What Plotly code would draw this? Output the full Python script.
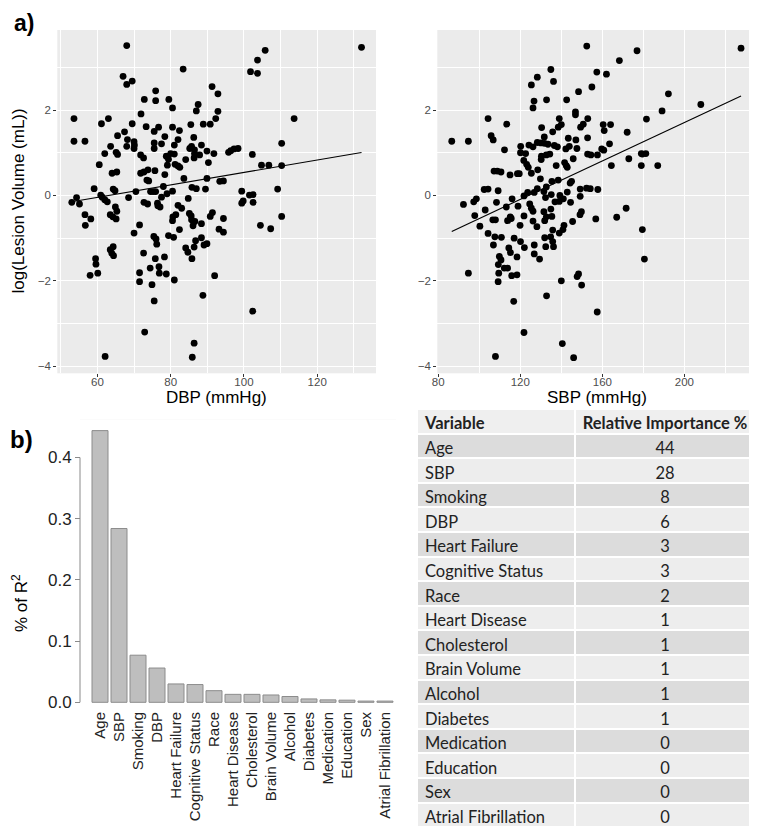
import numpy as np
import plotly.graph_objects as go

# page is 757x830; the html body adds an 8px margin, so the figure itself is 8px smaller
OFF = 8
W, H = 757 - OFF, 830 - OFF

# ---------------- data ----------------
dbp_x = [68, 132.1, 105.8, 103.7, 101.8, 103.7, 83.4, 67, 69.5, 68, 91.3, 75.9, 92.9, 72.8, 75.9, 79.5,
         80.5, 87.5, 87, 92.9, 53.6, 63, 92.3, 113.7, 71.9, 61.1, 69.5, 85.5, 88.9, 90.8, 73.3, 76.7,
         80.5, 67.4, 82.4, 75.5, 65.5, 68.2, 78.4, 86.3, 53.6, 56.6, 70, 82, 75.5, 77.5, 81, 110.3,
         63.6, 68, 70.1, 70, 75.5, 85.7, 85.2, 88.4, 86.5, 89.9, 95.8, 96.4, 97.3, 98.4, 62, 65.1,
         65.5, 71.8, 78.8, 80, 81, 86.5, 87.9, 91.8, 102.3, 72.6, 79.4, 84.1, 86.4, 90.3, 60.5, 79.1,
         81.2, 82, 82.5, 104.8, 106.8, 110.3, 73.8, 75.7, 65.3, 64, 71.8, 72.7, 78.4, 83.6, 89.9, 73.5,
         74, 93.4, 94.4, 59.1, 64.3, 64.8, 78, 85.8, 87, 89.5, 70.5, 74.5, 75.2, 75.9, 80.5, 99.4,
         109.2, 101.5, 102.5, 60.9, 61.3, 68.5, 54.3, 53, 55.1, 62, 62.7, 77.5, 79, 84.8, 99.8, 99.4,
         102.5, 72.7, 73.7, 76.4, 76.5, 77.1, 82, 83, 64.9, 65.3, 56.6, 63.5, 64.2, 65.1, 58.2, 56.7,
         80.6, 80.5, 81.4, 85.1, 85.6, 85.7, 86.1, 86.6, 90.8, 91.4, 94.4, 88.4, 93.2, 94.4, 104.5, 107.3,
         110.3, 71.5, 70, 82.4, 75.4, 76, 76.2, 79.4, 80.8, 88.4, 86.8, 86.4, 89.1, 89.9, 84.1, 84.7,
         64.3, 63.5, 63.9, 64.4, 72.6, 85.8, 59.5, 59.6, 58, 60.1, 75.8, 78.3, 74.4, 76.8, 76.9, 78.8,
         71.5, 71.5, 74.9, 81, 92, 75.5, 88.8, 102.4, 72.9, 86.4, 62.1, 85.9]
dbp_y = [3.51, 3.47, 3.40, 3.17, 2.90, 2.86, 2.96, 2.79, 2.68, 2.60, 2.55, 2.45, 2.38, 2.25, 2.22, 2.25,
         2.05, 2.13, 1.98, 1.97, 1.80, 1.80, 1.80, 1.80, 1.91, 1.68, 1.68, 1.66, 1.67, 1.67, 1.61, 1.60,
         1.60, 1.49, 1.52, 1.50, 1.40, 1.31, 1.38, 1.36, 1.27, 1.27, 1.26, 1.31, 1.23, 1.21, 1.18, 1.22,
         1.15, 1.15, 1.18, 1.10, 1.10, 1.15, 1.10, 1.18, 1.07, 1.04, 1.01, 1.05, 1.09, 1.10, 0.98, 1.01,
         0.96, 0.95, 0.92, 0.98, 0.97, 0.98, 0.95, 0.98, 0.96, 0.88, 0.85, 0.84, 0.88, 0.77, 0.72, 0.71,
         0.73, 0.69, 0.66, 0.71, 0.71, 0.70, 0.60, 0.58, 0.55, 0.52, 0.52, 0.55, 0.49, 0.40, 0.40, 0.36,
         0.34, 0.33, 0.34, 0.16, 0.15, 0.11, 0.21, 0.19, 0.16, 0.15, 0.09, 0.09, 0.09, 0.09, 0.10, 0.10,
         0.15, 0.01, 0.02, 0.01, -0.04, -0.05, -0.05, -0.16, -0.20, -0.10, -0.15, -0.04, 0.04, -0.07, -0.13, -0.18,
         -0.16, -0.16, -0.20, -0.18, -0.24, -0.27, -0.23, -0.30, -0.27, -0.37, -0.45, -0.45, -0.50, -0.55, -0.55, -0.70,
         -0.50, -0.59, -0.45, -0.42, -0.48, -0.57, -0.71, -0.61, -0.49, -0.40, -0.54, -0.66, -0.79, -0.86, -0.70, -0.78,
         -0.49, -0.69, -0.88, -0.80, -0.96, -1.02, -1.14, -0.94, -0.98, -0.99, -1.06, -1.21, -1.16, -1.13, -1.23, -1.33,
         -1.20, -1.27, -1.35, -1.41, -1.35, -1.48, -1.48, -1.61, -1.87, -1.82, -1.48, -1.44, -1.70, -1.67, -1.82, -1.84,
         -1.81, -2.02, -2.09, -1.98, -1.88, -2.47, -2.34, -2.71, -3.20, -3.46, -3.77, -3.79]

sbp_x = [152.4, 227.6, 176.9, 168.3, 134.9, 157.3, 162, 128.3, 136.2, 125.4, 154.9, 148.4, 192.2, 126.7, 132.8, 142.6,
         126.2, 208, 189.1, 146.9, 146.9, 104.3, 139, 152.9, 181.5, 113.4, 140, 150.7, 149.4, 160.4, 164, 138.5,
         130.4, 160.9, 172.1, 135.8, 105.8, 106.8, 131.7, 143.4, 152.8, 86.6, 94.7, 147.1, 128.3, 130.1, 131.8, 133.5,
         124.2, 120.2, 126.2, 136.6, 138.1, 143.9, 147.6, 142.2, 163.5, 159.7, 160.7, 112.3, 120.1, 122.6, 132.7, 134.4,
         130.3, 152.8, 154.4, 157.6, 179, 181.2, 179.5, 172.9, 130.2, 121.7, 145.8, 141.6, 123.1, 137.5, 142.4, 164.4,
         179, 187, 123.9, 142.9, 128.5, 107.2, 108.8, 110.6, 125.4, 115, 118.6, 119.5, 129.8, 138.5, 135.4, 145,
         144.3, 104.3, 102.4, 109.2, 128.3, 132.7, 152.3, 154.1, 149.2, 157.8, 131.5, 126.8, 123.6, 142.9, 135.1, 139.3,
         121.8, 132.3, 116, 141, 98.6, 97.3, 92.3, 108.4, 136.9, 139, 144.5, 149.2, 124.6, 118.9, 125.4, 113.2,
         102.9, 134.9, 131.5, 171.6, 149.8, 149.1, 126.2, 97.8, 115.1, 113.8, 115.6, 121.8, 132.7, 135.4, 167, 156.8,
         126.2, 131.9, 145.5, 106.6, 107.9, 119.9, 100.3, 128.1, 141.3, 140.8, 135.8, 179.5, 139, 104.3, 107.6, 110.8,
         117, 131.9, 134.8, 135.8, 120.1, 106.9, 126.8, 136.2, 132.4, 122, 114.4, 115.2, 126.8, 109.8, 110.6, 118.4,
         129.4, 180.5, 109.3, 112.2, 113.8, 94.7, 109.5, 115.8, 118.4, 148.4, 147.7, 149.9, 109.2, 140, 116.8, 132.8,
         157.5, 121.8, 140.5, 107.9, 146]
sbp_y = [3.50, 3.45, 3.39, 3.16, 2.95, 2.89, 2.84, 2.77, 2.67, 2.59, 2.54, 2.43, 2.38, 2.21, 2.24, 2.24,
         2.05, 2.13, 1.98, 1.96, 1.89, 1.80, 1.80, 1.80, 1.79, 1.67, 1.66, 1.67, 1.60, 1.66, 1.66, 1.60,
         1.59, 1.52, 1.48, 1.49, 1.40, 1.30, 1.37, 1.34, 1.35, 1.27, 1.27, 1.30, 1.24, 1.23, 1.22, 1.20,
         1.18, 1.15, 1.14, 1.17, 1.14, 1.15, 1.10, 1.09, 1.21, 1.09, 1.06, 1.07, 1.00, 0.98, 0.95, 0.97,
         0.92, 0.97, 0.95, 0.95, 0.98, 0.98, 0.97, 0.86, 0.84, 0.82, 0.86, 0.77, 0.73, 0.70, 0.70, 0.70,
         0.70, 0.70, 0.66, 0.66, 0.60, 0.57, 0.57, 0.55, 0.52, 0.48, 0.51, 0.51, 0.39, 0.36, 0.33, 0.33,
         0.29, 0.15, 0.14, 0.11, 0.16, 0.20, 0.17, 0.16, 0.15, 0.14, 0.09, 0.07, 0.07, 0.08, 0.02, 0.00,
         -0.01, -0.05, -0.08, -0.08, -0.08, -0.15, -0.21, -0.16, -0.15, -0.14, -0.16, -0.02, -0.20, -0.25, -0.30, -0.27,
         -0.34, -0.32, -0.38, -0.30, -0.38, -0.45, -0.37, -0.47, -0.50, -0.59, -0.54, -0.48, -0.50, -0.49, -0.51, -0.55,
         -0.60, -0.59, -0.61, -0.57, -0.57, -0.70, -0.72, -0.73, -0.70, -0.80, -0.81, -0.80, -0.88, -0.89, -0.97, -0.98,
         -1.00, -0.99, -0.97, -1.08, -1.08, -1.16, -1.16, -1.20, -1.20, -1.22, -1.23, -1.34, -1.37, -1.43, -1.51, -1.44,
         -1.49, -1.49, -1.62, -1.70, -1.70, -1.82, -1.82, -1.88, -1.86, -1.84, -1.90, -2.10, -2.02, -2.00, -2.48, -2.35,
         -2.73, -3.21, -3.47, -3.77, -3.80]

dbp_ticks = [60, 80, 100, 120]
sbp_ticks = [80, 120, 160, 200]
lesion_ticks = [-4, -2, 0, 2]

variables = ["Age", "SBP", "Smoking", "DBP", "Heart Failure", "Cognitive Status", "Race",
             "Heart Disease", "Cholesterol", "Brain Volume", "Alcohol", "Diabetes",
             "Medication", "Education", "Sex", "Atrial Fibrillation"]
r2_share = [0.444, 0.284, 0.077, 0.056, 0.030, 0.029, 0.019, 0.013, 0.013, 0.012,
            0.0095, 0.0055, 0.004, 0.0035, 0.002, 0.002]
r2_ticks = [0.0, 0.1, 0.2, 0.3, 0.4]
importance_pct = [44, 28, 8, 6, 3, 3, 2, 1, 1, 1, 1, 1, 0, 0, 0, 0]
table_header = ["Variable", "Relative Importance %"]

# ---------------- helpers (page pixels -> paper fractions) ----------------
def px_x(p):
    return (p - OFF) / W

def px_y(p):
    return 1 - (p - OFF) / H

def gg_range(vals):
    lo, hi = min(vals), max(vals)
    s = hi - lo
    return [lo - 0.05 * s, hi + 0.05 * s]

fig = go.Figure()

GRAY_BG = "#EBEBEB"
TICK_TXT = "#4D4D4D"
FONT = "Liberation Sans, Arial, sans-serif"
TFONT = "Lato, sans-serif"

# scatter panels
for xs, ys, xa, ya in [(dbp_x, dbp_y, "x", "y"), (sbp_x, sbp_y, "x2", "y2")]:
    fig.add_trace(go.Scatter(x=xs, y=ys, mode="markers", xaxis=xa, yaxis=ya,
                             marker=dict(color="black", size=6.8), showlegend=False))
    b, a = np.polyfit(xs, ys, 1)
    lx = np.array([min(xs), max(xs)])
    fig.add_trace(go.Scatter(x=lx, y=a + b * lx, mode="lines", xaxis=xa, yaxis=ya,
                             line=dict(color="black", width=1.1), showlegend=False))

# bar chart
fig.add_trace(go.Bar(x=variables, y=r2_share, xaxis="x3", yaxis="y3",
                     marker=dict(color="#BEBEBE", line=dict(color="#8C8C8C", width=1)),
                     showlegend=False))

# table
n = len(variables)
row_fill = ["#DCDCDC" if i % 2 == 0 else "#EDEDED" for i in range(n)]
val_text = [str(v) for v in importance_pct]
hdr = [h.replace(" ", "\u00a0") for h in table_header]
cell_font = dict(family=TFONT, size=16.5, color="#222")
fig.add_trace(go.Table(
    domain=dict(x=[px_x(417), px_x(755)], y=[px_y(828), px_y(409)]),
    columnwidth=[158, 180],
    header=dict(values=hdr,
                fill_color="#EFEFEF", line=dict(color="white", width=2),
                align=["left", "center"], height=24.6,
                font=dict(family=TFONT, size=16.5, color="#222", weight="bold")),
    cells=dict(values=[variables, val_text],
               fill_color=[row_fill, row_fill], line=dict(color="white", width=2),
               align=["left", "center"], height=24.6,
               font=cell_font),
))

yr = gg_range(dbp_y + sbp_y)

common_x = dict(showgrid=True, gridcolor="white", gridwidth=1.1, zeroline=False,
                ticks="outside", ticklen=3, tickcolor="#333333", tickwidth=1,
                tickfont=dict(size=11.5, color=TICK_TXT, family=FONT), showline=False,
                automargin=False)
common_y = dict(common_x)
common_x["ticklabelstandoff"] = -5

fig.update_layout(
    width=W, height=H, margin=dict(l=0, r=0, t=0, b=0, autoexpand=False),
    paper_bgcolor="white", plot_bgcolor=GRAY_BG,
    font=dict(family=FONT),
    bargap=1 - 16 / 19,
    xaxis=dict(common_x, domain=[px_x(57.3), px_x(376)], range=gg_range(dbp_x),
               tickvals=dbp_ticks, anchor="y",
               minor=dict(showgrid=True, gridcolor="white", gridwidth=0.55, dtick=10, tick0=0)),
    yaxis=dict(common_y, domain=[px_y(373.3), px_y(30)], range=yr,
               tickvals=lesion_ticks, anchor="x",
               minor=dict(showgrid=True, gridcolor="white", gridwidth=0.55, dtick=1, tick0=0)),
    xaxis2=dict(common_x, domain=[px_x(437.3), px_x(755.5)], range=gg_range(sbp_x),
                tickvals=sbp_ticks, anchor="y2",
                minor=dict(showgrid=True, gridcolor="white", gridwidth=0.55, dtick=20, tick0=0)),
    yaxis2=dict(common_y, domain=[px_y(373.3), px_y(30)], range=yr,
                tickvals=lesion_ticks, anchor="x2",
                minor=dict(showgrid=True, gridcolor="white", gridwidth=0.55, dtick=1, tick0=0)),
    xaxis3=dict(domain=[px_x(80), px_x(396)], range=[-1.053, 15.58], anchor="y3",
                showgrid=False, zeroline=False, showline=False, ticks="", automargin=False,
                tickangle=-90, tickfont=dict(size=15, color="#222", family=FONT)),
    yaxis3=dict(domain=[px_y(708), px_y(419.6)], range=[-0.0093, 0.462], anchor="free",
                position=px_x(80), showgrid=False, zeroline=False, showline=False,
                automargin=False,
                tickvals=r2_ticks, tickformat=".1f", ticks="outside", ticklen=5,
                tickcolor="#8A8A8A", tickfont=dict(size=17, color="#222", family=FONT)),
)

# base-R style y axis line (spans tick range only)
fig.add_shape(type="line", xref="paper", yref="y3", x0=px_x(80), x1=px_x(80),
              y0=min(r2_ticks), y1=max(r2_ticks), line=dict(color="#8A8A8A", width=1))
# white background behind bar chart plot area
fig.add_shape(type="rect", xref="paper", yref="paper", x0=px_x(80), x1=px_x(396),
              y0=px_y(708), y1=px_y(419.6), fillcolor="white", line=dict(width=0), layer="below")

ann = [
    dict(text="<b>a)</b>", x=px_x(24), y=px_y(8), size=23, ya="top"),
    dict(text="<b>b)</b>", x=px_x(22), y=px_y(439), size=24, ya="middle"),
    dict(text="log(Lesion Volume (mL))", x=px_x(18), y=px_y(201.5), size=17, angle=-90, ya="middle"),
    dict(text="DBP (mmHg)", x=px_x(216.5), y=px_y(397.5), size=17, ya="middle"),
    dict(text="SBP (mmHg)", x=px_x(596.5), y=px_y(397.5), size=17, ya="middle"),
    dict(text="% of R<sup>2</sup>", x=px_x(20), y=px_y(603), size=17, angle=-90, ya="middle"),
]
for a_ in ann:
    fig.add_annotation(text=a_["text"], x=a_["x"], y=a_["y"], xref="paper", yref="paper",
                       showarrow=False, xanchor="center", yanchor=a_["ya"],
                       textangle=a_.get("angle", 0),
                       font=dict(size=a_["size"], color="black", family=FONT))

fig.write_html("out.html")
